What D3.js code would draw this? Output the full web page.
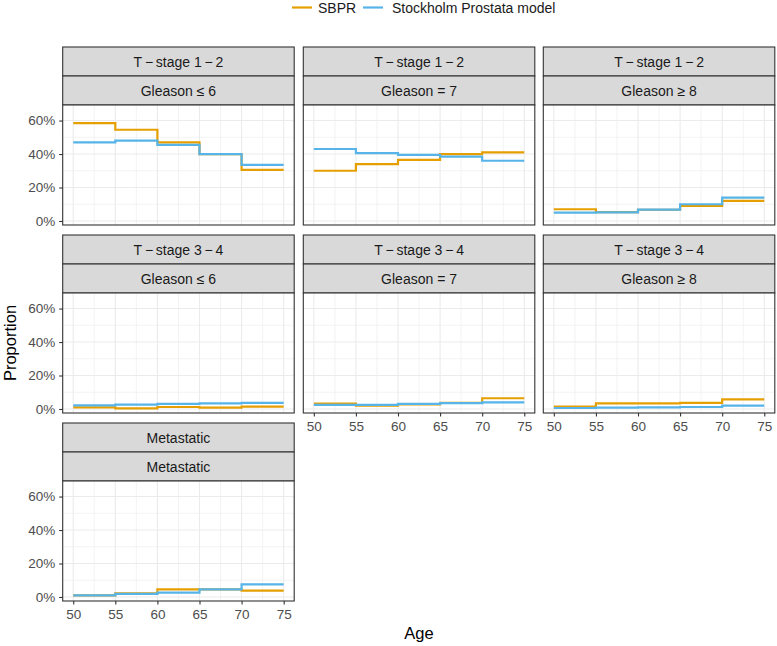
<!DOCTYPE html>
<html>
<head>
<meta charset="utf-8">
<script src="https://cdn.jsdelivr.net/npm/d3@7"></script>
<style>
  html, body { margin: 0; padding: 0; background: #fff; }
  svg { display: block; font-family: "Liberation Sans", Arial, Helvetica, sans-serif; }
</style>
</head>
<body>
<svg id="chart" width="777" height="646"></svg>
<script>
// ---------------- data ----------------
const ages = [50, 55, 60, 65, 70, 75];
const seriesNames = ["SBPR", "Stockholm Prostata model"];
const seriesColors = ["#E69F00", "#56B4E9"];
const stripTop = ["T\u2009\u2212\u2009stage 1\u2009\u2212\u20092", "T\u2009\u2212\u2009stage 1\u2009\u2212\u20092", "T\u2009\u2212\u2009stage 1\u2009\u2212\u20092",
                  "T\u2009\u2212\u2009stage 3\u2009\u2212\u20094", "T\u2009\u2212\u2009stage 3\u2009\u2212\u20094", "T\u2009\u2212\u2009stage 3\u2009\u2212\u20094",
                  "Metastatic"];
const stripBottom = ["Gleason \u2264 6", "Gleason = 7", "Gleason \u2265 8",
                     "Gleason \u2264 6", "Gleason = 7", "Gleason \u2265 8",
                     "Metastatic"];
// values for the age bands 50-55, 55-60, 60-65, 65-70, 70-75
const sbpr = [
  [0.585, 0.545, 0.470, 0.400, 0.305],
  [0.300, 0.340, 0.365, 0.400, 0.410],
  [0.070, 0.053, 0.067, 0.090, 0.120],
  [0.010, 0.004, 0.012, 0.008, 0.014],
  [0.032, 0.020, 0.028, 0.036, 0.064],
  [0.014, 0.034, 0.034, 0.036, 0.058],
  [0.010, 0.022, 0.046, 0.046, 0.038]
];
const model = [
  [0.470, 0.480, 0.455, 0.400, 0.335],
  [0.430, 0.405, 0.395, 0.385, 0.360],
  [0.050, 0.052, 0.068, 0.100, 0.140],
  [0.022, 0.026, 0.030, 0.034, 0.036],
  [0.024, 0.025, 0.030, 0.035, 0.040],
  [0.006, 0.008, 0.010, 0.012, 0.020],
  [0.010, 0.018, 0.026, 0.046, 0.075]
];
const xTicks = [50, 55, 60, 65, 70, 75];
const xMinor = [52.5, 57.5, 62.5, 67.5, 72.5];
const yTicks = [0, 0.2, 0.4, 0.6];
const yMinor = [0.1, 0.3, 0.5];

// ---------------- layout ----------------
const svg = d3.select("#chart");
const colLeft = [62.7, 303.3, 543.3];
const panelW = 231.5;
const stripH = 29;
const panelH = 120;
const rowTop = [47, 235, 423];
const xDomain = [48.75, 76.25];
const yDomain = [-0.024, 0.693];
const fmtPct = d3.format(".0%");

// legend
const legend = svg.append("g");
const legendItems = [{x: 292, tx: 318}, {x: 363, tx: 392}];
seriesNames.forEach((name, i) => {
  legend.append("line")
    .attr("x1", legendItems[i].x).attr("x2", legendItems[i].x + 20)
    .attr("y1", 7.5).attr("y2", 7.5)
    .attr("stroke", seriesColors[i]).attr("stroke-width", 2.2);
  legend.append("text")
    .attr("x", legendItems[i].tx).attr("y", 7.5).attr("dy", "0.36em")
    .attr("font-size", 14).attr("fill", "#1A1A1A").text(name);
});

// panels
const panelInfo = stripTop.map((s, i) => ({
  i, row: Math.floor(i / 3), col: i % 3,
  top: stripTop[i], bottom: stripBottom[i],
  sbpr: sbpr[i], model: model[i]
}));
const showX = i => i >= 4;

panelInfo.forEach(p => {
  const left = colLeft[p.col];
  const sTop = rowTop[p.row];
  const pTop = sTop + 2 * stripH;
  const g = svg.append("g");

  const x = d3.scaleLinear().domain(xDomain).range([left, left + panelW]);
  const y = d3.scaleLinear().domain(yDomain).range([pTop + panelH, pTop]);

  // strips
  [p.top, p.bottom].forEach((lab, k) => {
    g.append("rect")
      .attr("x", left).attr("y", sTop + k * stripH)
      .attr("width", panelW).attr("height", stripH)
      .attr("fill", "#D9D9D9").attr("stroke", "#333333").attr("stroke-width", 1.1);
    g.append("text")
      .attr("x", left + panelW / 2).attr("y", sTop + k * stripH + stripH / 2)
      .attr("dy", "0.36em").attr("text-anchor", "middle")
      .attr("font-size", 14).attr("fill", "#1A1A1A").text(lab);
  });

  g.append("rect").attr("x", left).attr("y", pTop).attr("width", panelW).attr("height", panelH)
    .attr("fill", "#fff");

  xMinor.forEach(v => g.append("line").attr("x1", x(v)).attr("x2", x(v))
    .attr("y1", pTop).attr("y2", pTop + panelH).attr("stroke", "#EBEBEB").attr("stroke-width", 0.6));
  yMinor.forEach(v => g.append("line").attr("y1", y(v)).attr("y2", y(v))
    .attr("x1", left).attr("x2", left + panelW).attr("stroke", "#EBEBEB").attr("stroke-width", 0.6));
  xTicks.forEach(v => g.append("line").attr("x1", x(v)).attr("x2", x(v))
    .attr("y1", pTop).attr("y2", pTop + panelH).attr("stroke", "#EBEBEB").attr("stroke-width", 1.1));
  yTicks.forEach(v => g.append("line").attr("y1", y(v)).attr("y2", y(v))
    .attr("x1", left).attr("x2", left + panelW).attr("stroke", "#EBEBEB").attr("stroke-width", 1.1));

  const line = d3.line().x(d => x(d[0])).y(d => y(d[1])).curve(d3.curveStepAfter);
  [p.sbpr, p.model].forEach((vals, si) => {
    const pts = ages.map((a, k) => [a, vals[Math.min(k, vals.length - 1)]]);
    g.append("path").datum(pts).attr("d", line)
      .attr("fill", "none").attr("stroke", seriesColors[si]).attr("stroke-width", 2.2);
  });

  g.append("rect").attr("x", left).attr("y", pTop).attr("width", panelW).attr("height", panelH)
    .attr("fill", "none").attr("stroke", "#333333").attr("stroke-width", 1.1);

  if (p.col === 0) {
    const ay = d3.axisLeft(y).tickValues(yTicks).tickFormat(fmtPct).tickSize(3.5).tickPadding(4);
    const ga = g.append("g").attr("transform", `translate(${left},0)`).call(ay);
    ga.select(".domain").remove();
    ga.selectAll(".tick line").attr("stroke", "#333333").attr("stroke-width", 1.1);
    ga.selectAll(".tick text").attr("fill", "#4D4D4D").attr("font-size", 13.5)
      .attr("font-family", "Liberation Sans, Arial, sans-serif");
  }
  if (showX(p.i)) {
    const ax = d3.axisBottom(x).tickValues(xTicks).tickFormat(d3.format("d")).tickSize(3.5).tickPadding(5);
    const ga = g.append("g").attr("transform", `translate(0,${pTop + panelH})`).call(ax);
    ga.select(".domain").remove();
    ga.selectAll(".tick line").attr("stroke", "#333333").attr("stroke-width", 1.1);
    ga.selectAll(".tick text").attr("fill", "#4D4D4D").attr("font-size", 13.5)
      .attr("font-family", "Liberation Sans, Arial, sans-serif");
  }
});

svg.append("text").attr("x", 419).attr("y", 633).attr("dy", "0.36em")
  .attr("text-anchor", "middle").attr("font-size", 16.5).attr("fill", "#000").text("Age");
svg.append("text").attr("transform", "translate(10,343) rotate(-90)").attr("dy", "0.36em")
  .attr("text-anchor", "middle").attr("font-size", 16.5).attr("fill", "#000").text("Proportion");
</script>
</body>
</html>
